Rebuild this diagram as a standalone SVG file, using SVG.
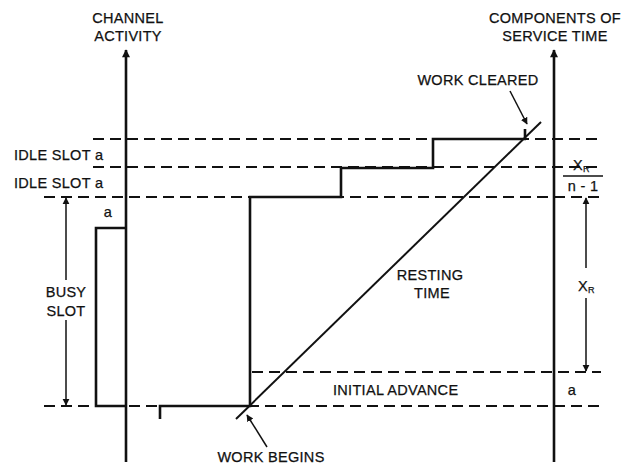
<svg xmlns="http://www.w3.org/2000/svg" width="636" height="467" viewBox="0 0 636 467">
<style>
text{font-family:"Liberation Sans",Arial,sans-serif;font-size:14.5px;fill:#111;stroke:#111;stroke-width:0.25;letter-spacing:0.3px}
.c{text-anchor:middle}
.ax{stroke:#111;stroke-width:2.6;fill:none}
.st{stroke:#111;stroke-width:2.6;fill:none}
.ds{stroke:#111;stroke-width:2;stroke-dasharray:11 6;fill:none}
.dm{stroke:#111;stroke-width:1.5;fill:none}
</style>
<defs>
<marker id="ah" viewBox="0 0 10 10" refX="9" refY="5" markerWidth="7" markerHeight="9" markerUnits="userSpaceOnUse" orient="auto"><path d="M0,0 L10,5 L0,10 Z" fill="#111"/></marker>
<marker id="axh" viewBox="0 0 10 10" refX="9" refY="5" markerWidth="13" markerHeight="8" markerUnits="userSpaceOnUse" orient="auto"><path d="M0,0 L10,5 L0,10 Z" fill="#111"/></marker>
</defs>
<rect width="636" height="467" fill="#fff"/>
<g id="connectors">
<g id="dashed-levels">
<line class="ds" x1="93" y1="139" x2="601" y2="139"/>
<line class="ds" x1="93" y1="167" x2="601" y2="167"/>
<line class="ds" x1="44" y1="197" x2="601" y2="197"/>
<line class="ds" x1="252" y1="372" x2="601" y2="372"/>
<line class="ds" x1="44" y1="406" x2="601" y2="406"/>
</g>
<g id="axes">
<line class="ax" x1="126" y1="462" x2="126" y2="50" marker-end="url(#axh)"/>
<line class="ax" x1="554" y1="462" x2="554" y2="50" marker-end="url(#axh)"/>
</g>
<g id="busy-pulse">
<polyline class="st" points="126,228 96,228 96,406 126,406"/>
</g>
<g id="staircase">
<polyline class="st" points="160,419 160,406 250,406 250,197 341,197 341,168 433,168 433,139 526,139"/>
<line class="st" x1="525" y1="139" x2="525" y2="129"/>
</g>
<g id="resting-line">
<line stroke="#111" stroke-width="2" x1="236" y1="419" x2="541" y2="122"/>
</g>
<g id="busy-dimension">
<line class="dm" x1="66" y1="280" x2="66" y2="198" marker-end="url(#ah)"/>
<line class="dm" x1="66" y1="320" x2="66" y2="405" marker-end="url(#ah)"/>
</g>
<g id="xr-dimension">
<line class="dm" x1="586" y1="268" x2="586" y2="198" marker-end="url(#ah)"/>
<line class="dm" x1="586" y1="298" x2="586" y2="371" marker-end="url(#ah)"/>
<line class="dm" x1="563" y1="176" x2="603" y2="176"/>
</g>
<g id="pointer-arrows">
<line class="dm" x1="510" y1="91" x2="527" y2="124" marker-end="url(#ah)"/>
<line class="dm" x1="267" y1="447" x2="247" y2="415" marker-end="url(#ah)"/>
</g>
</g>
<g id="label-channel">
<text class="c" x="128" y="23">CHANNEL</text>
<text class="c" x="128" y="41">ACTIVITY</text>
</g>
<g id="label-components">
<text class="c" x="555" y="23">COMPONENTS OF</text>
<text class="c" x="555" y="41">SERVICE TIME</text>
</g>
<g id="label-work-cleared"><text class="c" x="478" y="85">WORK CLEARED</text></g>
<g id="label-idle1"><text x="14" y="160">IDLE SLOT a</text></g>
<g id="label-idle2"><text x="14" y="188">IDLE SLOT a</text></g>
<g id="label-a-busy"><text class="c" x="108" y="217">a</text></g>
<g id="label-busy"><text class="c" x="66" y="297">BUSY</text><text class="c" x="66" y="316">SLOT</text></g>
<g id="label-resting"><text class="c" x="430" y="280">RESTING</text><text class="c" x="432" y="298">TIME</text></g>
<g id="label-initial"><text x="333" y="395">INITIAL ADVANCE</text></g>
<g id="label-a-right"><text class="c" x="572" y="395">a</text></g>
<g id="label-xr-frac">
<text x="573" y="170">X<tspan font-size="9" dy="2">R</tspan></text>
<text class="c" x="583" y="191">n - 1</text>
</g>
<g id="label-xr"><text x="578" y="291">X<tspan font-size="9" dy="2">R</tspan></text></g>
<g id="label-work-begins"><text class="c" x="271" y="462">WORK BEGINS</text></g>
</svg>
